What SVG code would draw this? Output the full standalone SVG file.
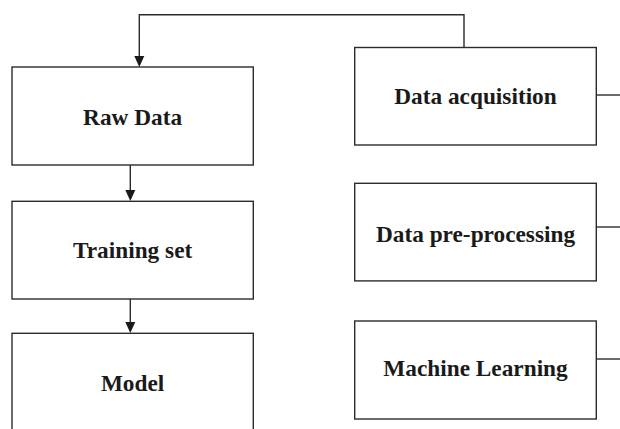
<svg xmlns="http://www.w3.org/2000/svg" width="620" height="429" viewBox="0 0 620 429">
<style>
.box{fill:#fff;stroke:#2b2b2b;stroke-width:1.4}
.lbl{font-family:"Liberation Serif","Times New Roman",serif;font-weight:bold;font-size:23.3px;fill:#1a1a1a;text-anchor:middle}
.con{fill:none;stroke:#2b2b2b;stroke-width:1.4}
.head{fill:#1a1a1a}
</style>
<rect width="620" height="429" fill="#fff"/>
<g id="connectors">
<path class="con" d="M464,47.5 V14.7 H139.3 V56"/>
<path class="head" d="M134.3,56 L144.3,56 L139.3,67 Z"/>
<path class="con" d="M130.3,165 V190"/>
<path class="head" d="M125.3,190 L135.3,190 L130.3,201 Z"/>
<path class="con" d="M130.3,299 V322"/>
<path class="head" d="M125.3,322 L135.3,322 L130.3,333 Z"/>
<path class="con" d="M596.3,95 H620"/>
<path class="con" d="M596.3,227 H620"/>
<path class="con" d="M596.3,359 H620"/>
</g>
<g id="raw-data">
<rect class="box" x="12" y="67" width="241.3" height="98"/>
<text class="lbl" x="132.6" y="124.8">Raw Data</text>
</g>
<g id="training-set">
<rect class="box" x="12" y="201.3" width="241.3" height="97.7"/>
<text class="lbl" x="132.6" y="258">Training set</text>
</g>
<g id="model">
<rect class="box" x="12" y="333.3" width="241.3" height="110"/>
<text class="lbl" x="132.6" y="391.3">Model</text>
</g>
<g id="data-acquisition">
<rect class="box" x="354.7" y="47.5" width="241.6" height="97.5"/>
<text class="lbl" x="475.5" y="104.3">Data acquisition</text>
</g>
<g id="data-preprocessing">
<rect class="box" x="354.7" y="183.3" width="241.6" height="97.6"/>
<text class="lbl" x="475.5" y="242.3">Data pre-processing</text>
</g>
<g id="machine-learning">
<rect class="box" x="354.7" y="321" width="241.6" height="98"/>
<text class="lbl" x="475.5" y="375.8">Machine Learning</text>
</g>
</svg>
